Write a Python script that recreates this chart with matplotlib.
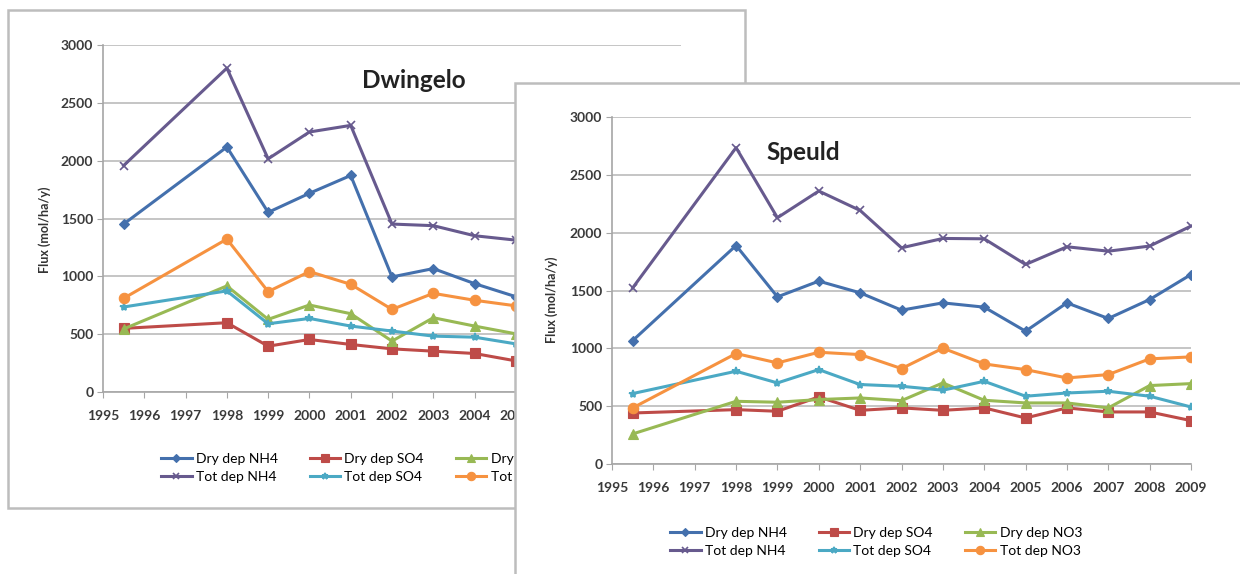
import matplotlib
matplotlib.use("Agg")
import matplotlib.pyplot as plt
from matplotlib.patches import Rectangle

# ---------------- data ----------------
years_dw = [1995.5, 1998, 1999, 2000, 2001, 2002, 2003, 2004, 2005, 2006, 2007, 2008, 2009]
dw_dry_nh4 = [1452, 2118, 1553, 1718, 1872, 995, 1067, 937, 824, 900, 850, 880, 950]
dw_dry_so4 = [550, 599, 396, 454, 411, 373, 353, 333, 269, 300, 280, 270, 250]
dw_dry_no3 = [545, 917, 628, 752, 677, 440, 642, 570, 503, 520, 480, 560, 580]
dw_tot_nh4 = [1958, 2800, 2016, 2248, 2305, 1452, 1438, 1351, 1313, 1380, 1330, 1360, 1420]
dw_tot_so4 = [735, 874, 590, 636, 570, 527, 483, 474, 416, 430, 420, 410, 380]
dw_tot_no3 = [810, 1322, 868, 1041, 931, 714, 853, 793, 745, 720, 700, 760, 780]

years_sp = [1995.5, 1998, 1999, 2000, 2001, 2002, 2003, 2004, 2005, 2006, 2007, 2008, 2009]
sp_dry_nh4 = [1067, 1889, 1445, 1581, 1480, 1330, 1393, 1356, 1148, 1393, 1258, 1422, 1638]
sp_dry_so4 = [441, 470, 456, 580, 464, 485, 464, 485, 398, 485, 450, 450, 375]
sp_dry_no3 = [260, 542, 534, 557, 571, 548, 701, 551, 528, 528, 485, 678, 695]
sp_tot_nh4 = [1523, 2735, 2129, 2360, 2192, 1869, 1950, 1947, 1725, 1878, 1840, 1884, 2057]
sp_tot_so4 = [609, 802, 701, 816, 687, 672, 638, 715, 586, 614, 629, 586, 493]
sp_tot_no3 = [485, 955, 874, 966, 946, 825, 1001, 865, 816, 744, 773, 909, 926]

series_names = ["Dry dep NH4", "Dry dep SO4", "Dry dep NO3",
                "Tot dep NH4", "Tot dep SO4", "Tot dep NO3"]
xticks = list(range(1995, 2010))
yticks = [0, 500, 1000, 1500, 2000, 2500, 3000]

# ---------------- styles ----------------
colors = ["#4470AD", "#BE4B48", "#98B954", "#675A8E", "#4BA9C4", "#F69240"]
markers = ["D", "s", "^", "x", "*", "o"]
msizes = [5.5, 6.5, 7, 6, 6, 7.5]

plt.rcParams['font.family'] = ['Lato', 'DejaVu Sans']

W, H = 1240, 574
fig = plt.figure(figsize=(W / 100, H / 100), dpi=100)
fig.patch.set_facecolor("white")


def fx(px):
    return px / W


def fy(py):
    return 1 - py / H


def draw_chart(ax, years, data, title, title_xy, legend_center, ylab_xy, hide_from=None):
    handles = []
    for i, (vals, name) in enumerate(zip(data, series_names)):
        h, = ax.plot(years, vals, color=colors[i], lw=2.2, marker=markers[i],
                     ms=msizes[i], mfc=colors[i], mec=colors[i],
                     mew=1.2 if markers[i] in ("x", "*") else 0.8,
                     label=name, zorder=3)
        handles.append(h)
    ax.set_xlim(1995, 2009)
    ax.set_ylim(0, 3000)
    ax.set_xticks(xticks)
    labels = [str(y) if (hide_from is None or y < hide_from) else "" for y in xticks]
    ax.set_xticklabels(labels, fontsize=10, fontweight='bold', color="#3A3A3A")
    ax.set_yticks(yticks)
    ax.set_yticklabels([str(v) for v in yticks], fontsize=10, fontweight='bold', color="#3A3A3A")
    ax.grid(axis='y', color="#BBBBBB", lw=1.2)
    ax.set_axisbelow(True)
    for s in ("top", "right"):
        ax.spines[s].set_visible(False)
    for s in ("left", "bottom"):
        ax.spines[s].set_color("#A6A6A6")
        ax.spines[s].set_linewidth(1.2)
    ax.tick_params(axis='x', direction='out', length=4, color="#A6A6A6", pad=9)
    ax.tick_params(axis='y', direction='out', length=4, color="#A6A6A6", pad=3)
    ax.set_ylabel("Flux (mol/ha/y)", fontsize=9, fontweight='bold', color="#333333")
    ax.yaxis.set_label_coords(ylab_xy[0], ylab_xy[1])
    ax.text(title_xy[0], title_xy[1], title, transform=fig.transFigure,
            fontsize=17.5, fontweight='bold', ha='center', va='center', color="#222222")
    order = [0, 3, 1, 4, 2, 5]
    ax.legend([handles[k] for k in order], [series_names[k] for k in order],
              ncol=3, frameon=False, fontsize=10, loc='center',
              bbox_to_anchor=legend_center, bbox_transform=fig.transFigure,
              handlelength=2.2, columnspacing=2.3, labelspacing=0.45,
              handletextpad=0.3, markerscale=0.8)


# left panel background
fig.patches.append(Rectangle((fx(8), fy(508)), fx(745 - 8), (508 - 10) / H,
                             transform=fig.transFigure, facecolor="white",
                             edgecolor="#BDBDBD", lw=1.8, zorder=0.1))

ax1 = fig.add_axes([fx(103), fy(392), fx(681 - 103), (392 - 45) / H])
ax1.set_zorder(0.5)
draw_chart(ax1, years_dw,
           [dw_dry_nh4, dw_dry_so4, dw_dry_no3, dw_tot_nh4, dw_tot_so4, dw_tot_no3],
           "Dwingelo", (fx(414), fy(80)), (fx(367), fy(468)),
           (-0.09, 0.467), hide_from=2006)

# right panel background, covering part of the left panel
fig.patches.append(Rectangle((fx(515), fy(580)), fx(1245 - 515), (580 - 83) / H,
                             transform=fig.transFigure, facecolor="white",
                             edgecolor="#BDBDBD", lw=1.8, zorder=1))

ax2 = fig.add_axes([fx(612), fy(464), fx(1191 - 612), (464 - 117) / H])
ax2.set_zorder(2)
ax2.patch.set_alpha(0)
draw_chart(ax2, years_sp,
           [sp_dry_nh4, sp_dry_so4, sp_dry_no3, sp_tot_nh4, sp_tot_so4, sp_tot_no3],
           "Speuld", (fx(803), fy(153)), (fx(876), fy(542)),
           (-0.093, 0.473))

fig.savefig("out.png", dpi=100)
